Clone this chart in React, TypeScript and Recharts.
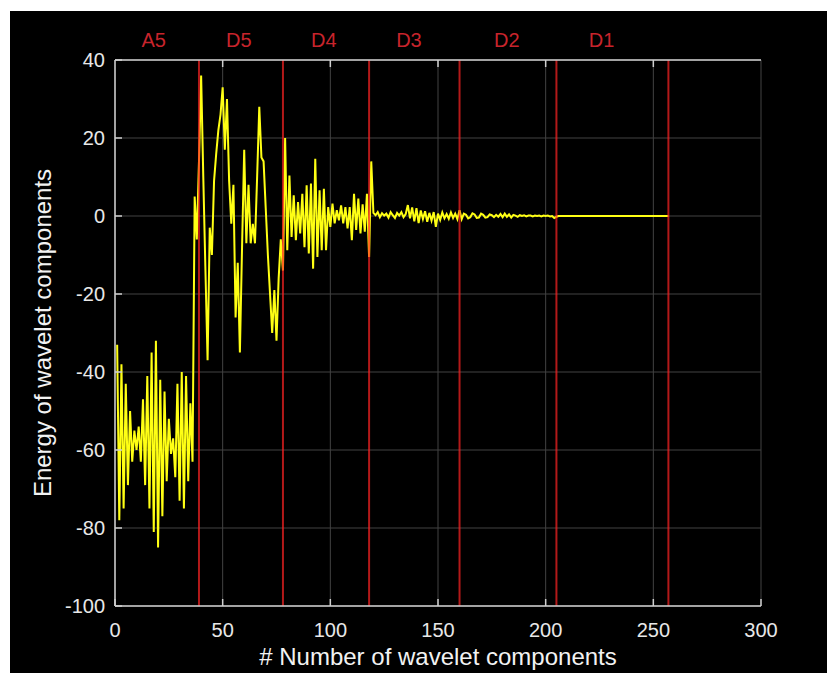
import React from 'react';
import { LineChart, Line, XAxis, YAxis, CartesianGrid, ReferenceLine } from 'recharts';

// coefficients per band, in plotting order (index starts at 1)
const a5 = [
  -33, -78, -38, -75, -43, -69, -50, -63, -55, -60, -54, -63, -47, -69, -41, -75, -35, -81, -32, -85,
  -42, -77, -45, -68, -52, -61, -57, -67, -43, -73, -40, -75, -41, -68, -48, -63, 5, -6, 14,
];
const d5 = [
  36, 10, -14, -37, -3, -10, 9, 16, 22, 26, 33, 17, 30, 9, -2, 8, -26, -12, -35, -8,
  17, -7, 8, -7, -2, -7, 10, 28, 15, 14, 2, -10, -20, -30, -19, -32, -16, -6, -14,
];
const d4 = [
  20, -8.8, 10.4, -5.4, 5.3, -6.2, 3.6, -4.5, 5.7, -8, 7.9, -9.6, 8.3, -13.5, 14.7, -10.5, 6.6, -8.8, 7, -8.8,
  2.3, -2.8, 3.2, -1.9, 1.5, -1.1, 2.7, -1.9, 2.3, -3.2, 2.3, -6.2, 5.7, -3.6, 4.5, -4.5, 3, -4, 5.7, -10.5,
];
const d3 = [
  14, 0.8, 0.2, 1.0, -0.3, 0.7, 0.1, 0.6, -0.4, 1.0, 0.2, -0.5, 0.8, 0.1, 1.0, -0.3, 0.5, 2.8, -0.6, 2.2,
  -1.4, 2.0, -1.8, 1.4, -0.8, 1.2, -1.5, 0.8, -1.2, 1.0, -2.8, 0.6, -1.0, 0.9, -0.6, 0.5, -0.7, 0.9, -0.5, 0.6,
  -0.8, 1.5,
];
const d2 = [
  -0.8, 0.6, 0.3, -0.6, -0.3, 0.7, 0.4, -0.5, -0.4, 0.6, 0.3, -0.4, -0.3, 0.4, 0.2, -0.3, 0.3, -0.2, 0.5, -0.3,
  0.6, -0.2, 0.4, -0.4, 0.3, 0.1, -0.2, 0.2, 0, 0.2, -0.1, 0.1, 0.1, -0.1, 0.1, 0, 0.1, -0.1, 0.1, 0,
  0.1, -0.1, 0, -0.5, -0.2,
];
const d1 = [
  0, 0, 0, 0, 0, 0, 0, 0, 0, 0, 0, 0, 0, 0, 0, 0, 0, 0, 0, 0,
  0, 0, 0, 0, 0, 0, 0, 0, 0, 0, 0, 0, 0, 0, 0, 0, 0, 0, 0, 0,
  0, 0, 0, 0, 0, 0, 0, 0, 0, 0, 0, 0,
];

const bandEnds = [39, 78, 118, 160, 205, 257];
const bandNames = ['A5', 'D5', 'D4', 'D3', 'D2', 'D1'];
const bandLabelAt = [18, 57.5, 97, 136.5, 182, 226];
const xTicks = [0, 50, 100, 150, 200, 250, 300];
const yTicks = [-100, -80, -60, -40, -20, 0, 20, 40];

const values = [...a5, ...d5, ...d4, ...d3, ...d2, ...d1];
const data = values.map((v, i) => ({ n: i + 1, energy: v }));

const FONT = '"Liberation Sans", Arial, Helvetica, sans-serif';
const AXIS = '#cfcfcf';
const GRID = '#434343';
const RED = '#c8242c';

const innerTicks = xTicks.slice(1, -1);

const TopTick = (props: any) => {
  const { x, y, payload } = props;
  const idx = bandLabelAt.indexOf(payload.value);
  if (idx >= 0) {
    return (
      <text x={x} y={y - 20} textAnchor="middle" dominantBaseline="central" fill={RED} fontSize={20} fontFamily={FONT}>
        {bandNames[idx]}
      </text>
    );
  }
  return <line x1={x} x2={x} y1={y} y2={y + 7} stroke={AXIS} strokeWidth={1.5} />;
};

export default function App() {
  return (
    <div style={{ position: 'fixed', left: 10, top: 11, right: -20, bottom: -20, background: '#000', overflow: 'hidden' }}>
      <LineChart width={817} height={662} data={data} margin={{ top: 0, right: 66, bottom: 0, left: 0 }}>
        <CartesianGrid xAxisId="bottom" yAxisId="left" stroke={GRID} strokeWidth={1} />
        <XAxis
          xAxisId="bottom"
          dataKey="n"
          type="number"
          domain={[0, 300]}
          ticks={xTicks}
          height={67}
          tickSize={-7}
          tickMargin={24}
          stroke={AXIS}
          strokeWidth={1.5}
          tick={{ fill: '#e8e8e8', fontSize: 20, fontFamily: FONT }}
          label={{ value: '# Number of wavelet components', position: 'insideBottom', offset: 8, fill: '#f2f2f2', fontSize: 24, fontFamily: FONT }}
        />
        <XAxis
          xAxisId="top"
          dataKey="n"
          type="number"
          orientation="top"
          domain={[0, 300]}
          ticks={[...bandLabelAt, ...innerTicks]}
          interval={0}
          height={49}
          tickSize={0}
          tickMargin={0}
          tickLine={false}
          stroke={AXIS}
          strokeWidth={1.5}
          tick={<TopTick />}
        />
        <YAxis
          yAxisId="left"
          type="number"
          domain={[-100, 40]}
          ticks={yTicks}
          width={105}
          tickSize={-7}
          tickMargin={17}
          stroke={AXIS}
          strokeWidth={1.5}
          tick={{ fill: '#e8e8e8', fontSize: 20, fontFamily: FONT }}
          label={{ value: 'Energy of wavelet components', angle: -90, position: 'center', dx: -20, fill: '#f2f2f2', fontSize: 24, fontFamily: FONT }}
        />
        <YAxis
          yAxisId="right"
          orientation="right"
          type="number"
          domain={[-100, 40]}
          ticks={yTicks}
          width={0}
          tickSize={-7}
          tick={false}
          stroke={AXIS}
          strokeWidth={1.5}
        />
        <Line
          xAxisId="bottom"
          yAxisId="left"
          type="linear"
          dataKey="energy"
          stroke="#ffff14"
          strokeWidth={2}
          dot={false}
          isAnimationActive={false}
        />
        {bandEnds.map((b) => (
          <ReferenceLine key={b} xAxisId="bottom" yAxisId="left" x={b} stroke="#ff2424" strokeWidth={2} strokeOpacity={0.7} />
        ))}
      </LineChart>
    </div>
  );
}
